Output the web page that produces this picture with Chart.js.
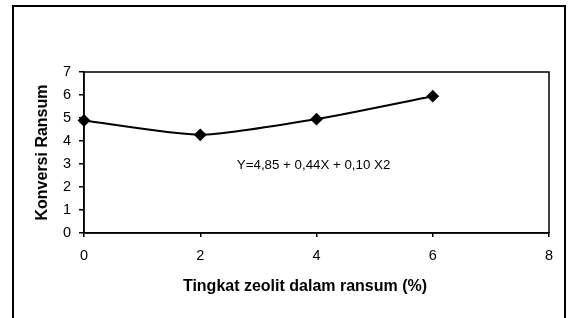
<!DOCTYPE html>
<html>
<head>
<meta charset="utf-8">
<script src="https://cdn.jsdelivr.net/npm/chart.js@4"></script>
<style>
  html, body { margin: 0; padding: 0; background: #fff; }
  #wrap { width: 569px; height: 318px; }
</style>
</head>
<body>
<div id="wrap"><canvas id="chart" width="569" height="318"></canvas></div>
<script>
const zeolitLevels = [0, 2, 4, 6];
const konversiValues = [4.89, 4.27, 4.95, 5.95];
const yTickLabels = [0, 1, 2, 3, 4, 5, 6, 7];
const xTickLabels = [0, 2, 4, 6, 8];
const equationText = 'Y=4,85 + 0,44X + 0,10 X2';
const xTitle = 'Tingkat zeolit dalam ransum (%)';
const yTitle = 'Konversi Ransum';

const FONT = 'Arial, "Liberation Sans", sans-serif';

// outer frame, plot box, equation label, x title
const extras = {
    id: 'extras',
    beforeDatasetsDraw(chart) {
        const ctx = chart.ctx;
        const a = chart.chartArea;
        ctx.save();
        ctx.strokeStyle = '#000';
        ctx.lineWidth = 1.5;
        ctx.strokeRect(a.left, a.top, a.right - a.left, a.bottom - a.top);
        ctx.lineWidth = 2;
        ctx.strokeRect(13, 6, 552, 330);
        ctx.restore();
    },
    afterDraw(chart) {
        const ctx = chart.ctx;
        const x = chart.scales.x, y = chart.scales.y;
        ctx.save();
        ctx.fillStyle = '#000';
        ctx.font = '13.3px ' + FONT;
        ctx.textAlign = 'left';
        ctx.textBaseline = 'alphabetic';
        ctx.fillText(equationText, x.getPixelForValue(2.63), y.getPixelForValue(2.77));
        ctx.font = 'bold 16px ' + FONT;
        ctx.textAlign = 'center';
        ctx.textBaseline = 'middle';
        ctx.fillText(xTitle, 305, 287);
        ctx.restore();
    }
};

new Chart(document.getElementById('chart').getContext('2d'), {
    type: 'line',
    data: {
        datasets: [{
            data: zeolitLevels.map((v, i) => ({ x: v, y: konversiValues[i] })),
            borderColor: '#000',
            backgroundColor: '#000',
            borderWidth: 2,
            tension: 0.2,
            pointStyle: 'rectRot',
            pointRadius: 5,
            pointHoverRadius: 5,
            clip: false
        }]
    },
    options: {
        responsive: false,
        animation: false,
        events: [],
        layout: { padding: { top: 72, right: 20, left: 0, bottom: 0 } },
        plugins: { legend: { display: false }, tooltip: { enabled: false } },
        scales: {
            x: {
                type: 'linear',
                min: 0, max: 8,
                afterBuildTicks(s) { s.ticks = xTickLabels.map(v => ({ value: v })); },
                afterFit(s) { s.height = 85; },
                grid: { drawOnChartArea: false, color: '#000', lineWidth: 1.5, tickLength: 4 },
                border: { color: '#000', width: 1.5 },
                ticks: { color: '#000', padding: 10, font: { family: FONT, size: 14.5 } }
            },
            y: {
                min: 0, max: 7,
                afterBuildTicks(s) { s.ticks = yTickLabels.map(v => ({ value: v })); },
                afterFit(s) { s.width = 84; },
                grid: { drawOnChartArea: false, color: '#000', lineWidth: 1.5, tickLength: 5 },
                border: { color: '#000', width: 1.5 },
                ticks: { color: '#000', padding: 8, font: { family: FONT, size: 14.5 } },
                title: {
                    display: true,
                    text: yTitle,
                    color: '#000',
                    font: { family: FONT, size: 16, weight: 'bold' },
                    padding: { top: 33, bottom: 0 }
                }
            }
        }
    },
    plugins: [extras]
});
</script>
</body>
</html>
